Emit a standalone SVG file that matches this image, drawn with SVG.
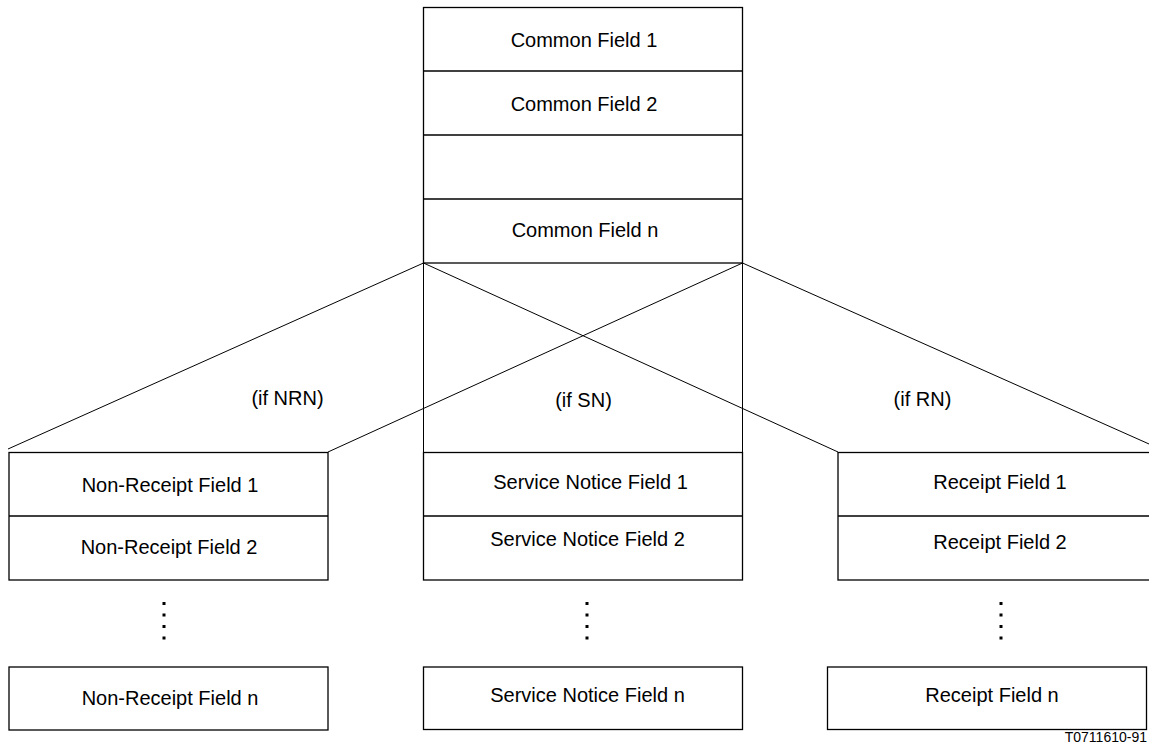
<svg xmlns="http://www.w3.org/2000/svg" width="1149" height="753" viewBox="0 0 1149 753">
<style>
.box{fill:none;stroke:#000;stroke-width:1.3}
.ln{fill:none;stroke:#000;stroke-width:1}
.t{font-family:"Liberation Sans",Arial,sans-serif;font-size:20px;fill:#000;text-anchor:middle}
.dot{fill:#000}
</style>
<rect width="1149" height="753" fill="#fff"/>
<g id="connectors">
<line class="ln" x1="423.5" y1="263" x2="8" y2="449"/>
<line class="ln" x1="742.5" y1="263" x2="328" y2="452"/>
<line class="ln" x1="423.5" y1="263" x2="838" y2="452"/>
<line class="ln" x1="742.5" y1="263" x2="1167" y2="452"/>
<line class="ln" x1="423.5" y1="263" x2="423.5" y2="452"/>
<line class="ln" x1="742.5" y1="263" x2="742.5" y2="452"/>
</g>
<g id="common">
<rect class="box" x="423.5" y="7.5" width="319" height="255.5"/>
<line class="box" x1="423.5" y1="71" x2="742.5" y2="71"/>
<line class="box" x1="423.5" y1="135" x2="742.5" y2="135"/>
<line class="box" x1="423.5" y1="199" x2="742.5" y2="199"/>
<text class="t" x="584" y="46.5">Common Field 1</text>
<text class="t" x="584" y="110.5">Common Field 2</text>
<text class="t" x="585" y="237">Common Field n</text>
</g>
<g id="nonreceipt">
<rect class="box" x="9" y="452.5" width="319" height="127.5"/>
<line class="box" x1="9" y1="516" x2="328" y2="516"/>
<text class="t" x="170" y="491.5">Non-Receipt Field 1</text>
<text class="t" x="169" y="553.5">Non-Receipt Field 2</text>
<rect class="dot" x="162.5" y="602" width="3" height="3"/>
<rect class="dot" x="162.5" y="613.5" width="3" height="3"/>
<rect class="dot" x="162.5" y="625" width="3" height="3"/>
<rect class="dot" x="162.5" y="636.5" width="3" height="3"/>
</g>
<g id="nonreceipt-n">
<rect class="box" x="9" y="667" width="319" height="63"/>
<text class="t" x="170" y="705">Non-Receipt Field n</text>
</g>
<g id="service">
<rect class="box" x="423.5" y="452.5" width="319" height="127.5"/>
<line class="box" x1="423.5" y1="516" x2="742.5" y2="516"/>
<text class="t" x="590.5" y="488.5">Service Notice Field 1</text>
<text class="t" x="587.5" y="546">Service Notice Field 2</text>
<rect class="dot" x="585.5" y="602" width="3" height="3"/>
<rect class="dot" x="585.5" y="613.5" width="3" height="3"/>
<rect class="dot" x="585.5" y="625" width="3" height="3"/>
<rect class="dot" x="585.5" y="636.5" width="3" height="3"/>
</g>
<g id="service-n">
<rect class="box" x="423.5" y="667" width="319" height="62.5"/>
<text class="t" x="587.5" y="701.5">Service Notice Field n</text>
</g>
<g id="receipt">
<rect class="box" x="838" y="452.5" width="329" height="127.5"/>
<line class="box" x1="838" y1="516" x2="1167" y2="516"/>
<text class="t" x="1000" y="489">Receipt Field 1</text>
<text class="t" x="1000" y="548.5">Receipt Field 2</text>
<rect class="dot" x="999.5" y="602" width="3" height="3"/>
<rect class="dot" x="999.5" y="613.5" width="3" height="3"/>
<rect class="dot" x="999.5" y="625" width="3" height="3"/>
<rect class="dot" x="999.5" y="636.5" width="3" height="3"/>
</g>
<g id="receipt-n">
<rect class="box" x="827.5" y="667" width="319" height="62.5"/>
<text class="t" x="992" y="701.5">Receipt Field n</text>
</g>
<g id="labels">
<text class="t" x="287.5" y="404.5">(if NRN)</text>
<text class="t" x="583.5" y="407">(if SN)</text>
<text class="t" x="922.5" y="405.5">(if RN)</text>
<text class="t" x="1147" y="741.5" style="font-size:14px;text-anchor:end">T0711610-91</text>
</g>
</svg>
